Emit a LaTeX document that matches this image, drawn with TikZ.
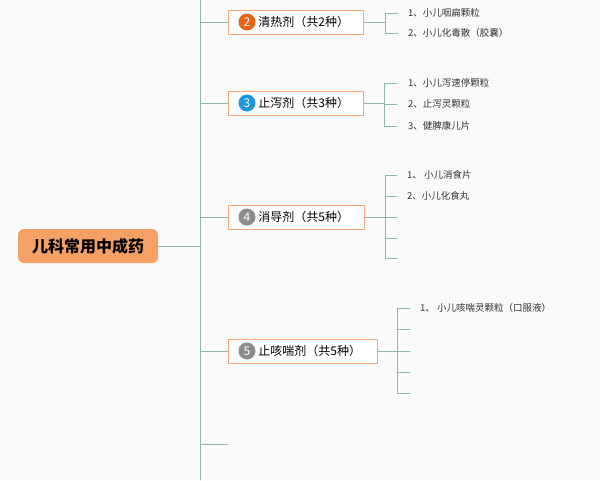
\documentclass[tikz,border=0pt]{standalone}
\usepackage{fontspec}
\setmainfont{Noto Sans CJK SC}
\usetikzlibrary{positioning}
\definecolor{linec}{RGB}{140,185,170}
\definecolor{boxc}{RGB}{245,168,118}
\definecolor{rootc}{RGB}{245,160,100}
\definecolor{bgc}{RGB}{250,250,250}
\definecolor{numa}{RGB}{230,100,20}
\definecolor{numb}{RGB}{30,150,220}
\definecolor{numc}{RGB}{140,140,140}
\tikzset{
	link/.style={draw=linec, line width=0.7pt},
	catbox/.style={draw=boxc, fill=white, line width=0.9pt, minimum height=24pt, anchor=west, inner xsep=0pt, text width=#1, align=left, font=\fontsize{12}{14}\selectfont},
	numdot/.style={circle, fill=#1, text=white, inner sep=0pt, minimum size=17pt, font=\fontsize{12}{12}\selectfont},
	item/.style={anchor=west, inner sep=0pt, text=black!80, font=\fontsize{9.5}{11}\selectfont}
}
\begin{document}
\begin{tikzpicture}[x=1pt, y=-1pt, line cap=round, line join=round]
			\fill[bgc] (0,0) rectangle (600,480);
			\useasboundingbox (0,0) rectangle (600,480);
			
			% Root and trunk
			\node[fill=rootc, rounded corners=6pt, minimum width=140pt, minimum height=34pt, font=\fontsize{16}{18}\selectfont\bfseries] (root) at (88,246) {儿科常用中成药};
			\coordinate (top) at (200,0);
			\coordinate (bot) at (200,480);
			\draw[link] (top) -- (bot);
			\draw[link] (root.east) -- (root.east -| top);
			
			% Category boxes
			\node[catbox=135pt] (c2) at (228,22) {\hspace*{30pt}清热剂（共2种）};
			\node[catbox=135pt] (c3) at (228,103) {\hspace*{30pt}止泻剂（共3种）};
			\node[catbox=136pt] (c4) at (228,217) {\hspace*{30pt}消导剂（共5种）};
			\node[catbox=149pt] (c5) at (228,351) {\hspace*{30pt}止咳喘剂（共5种）};
			\node[numdot=numa] (n2) at (247,22) {2};
			\node[numdot=numb] (n3) at (247,103) {3};
			\node[numdot=numc] (n4) at (247,217) {4};
			\node[numdot=numc] (n5) at (247,351) {5};
			\coordinate (c6) at (228,444);
			
			% Branches from trunk
			\foreach \c in {c2,c3,c4,c5}
				\draw[link] (\c.west -| top) -- (\c.west);
			\draw[link] (c6 -| top) -- (c6);
			
			% Items of 2
			\draw[link] (c2.east) -- (385,22);
			\draw[link] (398,13) -- (385,13) -- (385,33) -- (398,33);
			\node[item] (i21) at (408,13) {1、小儿咽扁颗粒};
			\node[item] (i22) at (408,33) {2、小儿化毒散（胶囊）};
			
			% Items of 3
			\draw[link] (c3.east) -- (384,103);
			\draw[link] (397,83) -- (384,83) -- (384,126) -- (397,126);
			\draw[link] (384,104) -- (397,104);
			\node[item] (i31) at (408,83) {1、小儿泻速停颗粒};
			\node[item] (i32) at (408,104) {2、止泻灵颗粒};
			\node[item] (i33) at (408,126) {3、健脾康儿片};
			
			% Items of 4
			\draw[link] (c4.east) -- (385,217);
			\draw[link] (397,175) -- (385,175) -- (385,258) -- (397,258);
			\foreach \y in {196,217,238}
				\draw[link] (385,\y) -- (397,\y);
			\node[item] (i41) at (407,175) {1、 小儿消食片};
			\node[item] (i42) at (407,196) {2、小儿化食丸};
			
			% Items of 5
			\draw[link] (c5.east) -- (397,351);
			\draw[link] (410,308) -- (397,308) -- (397,393) -- (410,393);
			\foreach \y in {329,351,372}
				\draw[link] (397,\y) -- (410,\y);
			\node[item] (i51) at (420,308) {1、 小儿咳喘灵颗粒（口服液）};
			
		\end{tikzpicture}
\end{document}
